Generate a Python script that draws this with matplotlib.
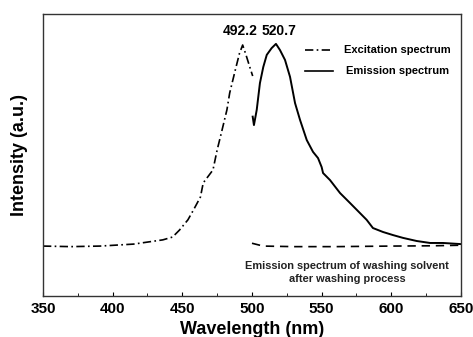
import matplotlib
matplotlib.use("Agg")
import matplotlib.pyplot as plt
from matplotlib.ticker import MultipleLocator

plt.rcParams["font.family"] = ["Liberation Sans", "DejaVu Sans"]
plt.rcParams["font.weight"] = "bold"

# excitation spectrum (dash-dot)
exc_wl = [350, 370, 391, 415, 436, 443, 448, 454, 458, 463, 465, 472,
          475, 478, 482, 484, 488, 491, 493.3, 495.7, 498.6, 500.5]
exc_int = [0.177, 0.175, 0.177, 0.184, 0.199, 0.209, 0.234, 0.270, 0.305, 0.351,
           0.401, 0.447, 0.518, 0.578, 0.660, 0.720, 0.801, 0.860, 0.890, 0.855,
           0.809, 0.780]

# emission spectrum (solid)
em_wl = [500.5, 501.4, 503.4, 505.7, 508.1, 510.6, 514.1, 517.2, 520.1, 523.7,
         527.3, 530.9, 534.5, 539.3, 543.8, 547.4, 550.0, 551.0, 556.0, 563.2,
         570.3, 577.5, 582.3, 586.8, 594.0, 601.2, 608.4, 618.2, 627.8, 637.1, 650]
em_int = [0.636, 0.606, 0.660, 0.755, 0.812, 0.855, 0.879, 0.894, 0.872, 0.837,
          0.777, 0.684, 0.624, 0.553, 0.511, 0.489, 0.457, 0.436, 0.411, 0.365,
          0.330, 0.294, 0.270, 0.241, 0.227, 0.216, 0.206, 0.195, 0.188, 0.188, 0.184]

# washing solvent (dashed)
wash_wl = [500, 508, 530, 560, 600, 630, 650]
wash_int = [0.187, 0.177, 0.175, 0.175, 0.177, 0.178, 0.180]

fig = plt.figure(figsize=(4.73, 3.37), dpi=100)
ax = fig.add_axes([0.0909, 0.1217, 0.8837, 0.8368])

ax.plot(exc_wl, exc_int, color="black", lw=1.2, linestyle=(0, (5, 2, 1, 2)))
ax.plot(em_wl, em_int, color="black", lw=1.4)
ax.plot(wash_wl, wash_int, color="black", lw=1.2, linestyle=(0, (5, 3.5)))

ax.set_xlim(350, 650)
ax.set_ylim(0, 1)
ax.xaxis.set_major_locator(MultipleLocator(50))
ax.xaxis.set_minor_locator(MultipleLocator(25))
ax.tick_params(axis="x", which="major", direction="in", length=3, labelsize=11, pad=4)
ax.tick_params(axis="x", which="minor", direction="in", length=2)
ax.set_yticks([])
for s in ax.spines.values():
    s.set_linewidth(1.0)
    s.set_color("#333333")

ax.set_xlabel("Wavelength (nm)", fontsize=13, fontweight="bold", labelpad=4)
ax.set_ylabel("Intensity (a.u.)", fontsize=13, fontweight="bold", labelpad=10.5)

ax.text(491.4, 0.94, "492.2", ha="center", va="center", fontsize=10, fontweight="bold")
ax.text(519.4, 0.94, "520.7", ha="center", va="center", fontsize=10, fontweight="bold")

# legend
ax.plot([538, 558], [0.872, 0.872], color="black", lw=1.2, linestyle=(0, (5, 2, 1, 2)))
ax.plot([538, 558], [0.798, 0.798], color="black", lw=1.2)
ax.text(566, 0.872, "Excitation spectrum", ha="left", va="center", fontsize=8, fontweight="bold")
ax.text(567.5, 0.798, "Emission spectrum", ha="left", va="center", fontsize=8, fontweight="bold")

ax.text(568.5, 0.107, "Emission spectrum of washing solvent", ha="center", va="center",
        fontsize=7.9, fontweight="bold", color="#222222")
ax.text(568.5, 0.060, "after washing process", ha="center", va="center",
        fontsize=7.9, fontweight="bold", color="#222222")

fig.savefig("out.png", dpi=100)
